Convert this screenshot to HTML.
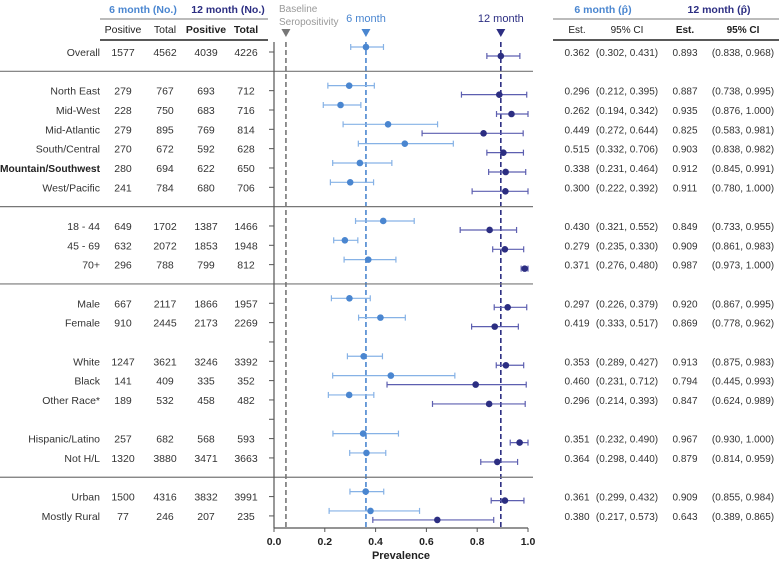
<!DOCTYPE html>
<html><head><meta charset="utf-8"><style>
body{margin:0;background:#fff}
svg{display:block;font-family:"Liberation Sans",Arial,sans-serif}
</style></head><body>
<svg id="c" width="779" height="562" viewBox="0 0 779 562"></svg>
<script>
const labels=["Overall","North East","Mid-West","Mid-Atlantic","South/Central","Mountain/Southwest","West/Pacific","18 - 44","45 - 69","70+","Male","Female","White","Black","Other Race*","Hispanic/Latino","Not H/L","Urban","Mostly Rural"];
const slots=[0,2,3,4,5,6,7,9,10,11,13,14,16,17,18,20,21,23,24];
const sepSlots=[1,8,12,22];
const blankSlots=[15,19];
const pos6=[1577,279,228,279,270,280,241,649,632,296,667,910,1247,141,189,257,1320,1500,77];
const tot6=[4562,767,750,895,672,694,784,1702,2072,788,2117,2445,3621,409,532,682,3880,4316,246];
const pos12=[4039,693,683,769,592,622,680,1387,1853,799,1866,2173,3246,335,458,568,3471,3832,207];
const tot12=[4226,712,716,814,628,650,706,1466,1948,812,1957,2269,3392,352,482,593,3663,3991,235];
const est6=[0.362,0.296,0.262,0.449,0.515,0.338,0.300,0.430,0.279,0.371,0.297,0.419,0.353,0.460,0.296,0.351,0.364,0.361,0.380];
const lo6=[0.302,0.212,0.194,0.272,0.332,0.231,0.222,0.321,0.235,0.276,0.226,0.333,0.289,0.231,0.214,0.232,0.298,0.299,0.217];
const hi6=[0.431,0.395,0.342,0.644,0.706,0.464,0.392,0.552,0.330,0.480,0.379,0.517,0.427,0.712,0.393,0.490,0.440,0.432,0.573];
const est12=[0.893,0.887,0.935,0.825,0.903,0.912,0.911,0.849,0.909,0.987,0.920,0.869,0.913,0.794,0.847,0.967,0.879,0.909,0.643];
const lo12=[0.838,0.738,0.876,0.583,0.838,0.845,0.780,0.733,0.861,0.973,0.867,0.778,0.875,0.445,0.624,0.930,0.814,0.855,0.389];
const hi12=[0.968,0.995,1.000,0.981,0.982,0.991,1.000,0.955,0.983,1.000,0.995,0.962,0.983,0.993,0.989,1.000,0.959,0.984,0.865];
const xTicks=["0.0","0.2","0.4","0.6","0.8","1.0"];
const refLines=[0.047,0.362,0.893];

const svg=document.getElementById('c');const NS='http://www.w3.org/2000/svg';
const X=v=>274+v*254;const Y=s=>52+s*19.33;
function el(t,a,txt){const e=document.createElementNS(NS,t);for(const k in a)e.setAttribute(k,a[k]);if(txt!==undefined)e.textContent=txt;svg.appendChild(e);return e;}
const f3=v=>v.toFixed(3);
const C6='#4a86d0',C6L='#86b2e6',C12='#2c2e82',C12L='#5d5fb0';
let t;
t=el('text',{x:143,y:13,'text-anchor':'middle','font-size':10.5,'font-weight':'bold',fill:C6},'6 month (No.)');
t=el('text',{x:228,y:13,'text-anchor':'middle','font-size':10.5,'font-weight':'bold',fill:C12},'12 month (No.)');
el('line',{x1:100,x2:268,y1:19,y2:19,stroke:'#777','stroke-width':1});
el('line',{x1:100,x2:268,y1:40,y2:40,stroke:'#222','stroke-width':1.5});
[['Positive',123,'normal'],['Total',165,'normal'],['Positive',206,'bold'],['Total',246,'bold']].forEach(h=>{t=el('text',{x:h[1],y:33,'text-anchor':'middle','font-size':10.5,'font-weight':h[2],fill:'#222'},h[0]);});
t=el('text',{x:603,y:13,'text-anchor':'middle','font-size':10.5,'font-weight':'bold',fill:C6},'6 month (p̂)');
t=el('text',{x:719,y:13,'text-anchor':'middle','font-size':10.5,'font-weight':'bold',fill:C12},'12 month (p̂)');
el('line',{x1:553,x2:779,y1:19,y2:19,stroke:'#777','stroke-width':1});
el('line',{x1:553,x2:779,y1:40,y2:40,stroke:'#222','stroke-width':1.5});
[['Est.',577,'normal'],['95% CI',627,'normal'],['Est.',685,'bold'],['95% CI',743,'bold']].forEach(h=>{t=el('text',{x:h[1],y:33,'text-anchor':'middle','font-size':10,'font-weight':h[2],fill:'#222'},h[0]);});
t=el('text',{x:279,y:12,'font-size':10,fill:'#999'},'Baseline');
el('text',{x:279,y:25,'font-size':10,fill:'#999'},'Seropositivity');
t=el('text',{x:X(refLines[1]),y:22,'text-anchor':'middle','font-size':11,fill:C6},'6 month');
t=el('text',{x:X(refLines[2]),y:22,'text-anchor':'middle','font-size':11,fill:C12},'12 month');
const refCols=['#777',C6,C12];
refLines.forEach((v,i)=>{const x=X(v);
 t=el('line',{x1:x,x2:x,y1:42,y2:528,stroke:refCols[i],'stroke-width':1.6,'stroke-dasharray':'5,3'});
 el('path',{d:`M${x-4.5},29 L${x+4.5},29 L${x},37 Z`,fill:refCols[i]});});
sepSlots.forEach(s=>{t=el('line',{x1:0,x2:533,y1:Y(s),y2:Y(s),stroke:'#777','stroke-width':1.2});});
el('line',{x1:274,x2:274,y1:42,y2:528,stroke:'#555','stroke-width':1.2});
el('line',{x1:274,x2:X(1),y1:528,y2:528,stroke:'#555','stroke-width':1.2});
xTicks.forEach(l=>{const x=X(parseFloat(l));el('line',{x1:x,x2:x,y1:528,y2:532,stroke:'#555'});t=el('text',{x:x,y:545,'text-anchor':'middle','font-size':10.5,'font-weight':'bold',fill:'#222'},l);});
t=el('text',{x:X(0.5),y:559,'text-anchor':'middle','font-size':11,'font-weight':'bold',fill:'#222'},'Prevalence');
blankSlots.forEach(s=>el('line',{x1:269,x2:274,y1:Y(s),y2:Y(s),stroke:'#555'}));
function ci(lo,hi,y,col){el('line',{x1:X(lo),x2:X(hi),y1:y,y2:y,stroke:col,'stroke-width':1.2});el('line',{x1:X(lo),x2:X(lo),y1:y-3,y2:y+3,stroke:col,'stroke-width':1.2});el('line',{x1:X(hi),x2:X(hi),y1:y-3,y2:y+3,stroke:col,'stroke-width':1.2});}
labels.forEach((lab,i)=>{const y=Y(slots[i]);const ty=y+4;
 if(lab==='Mountain/Southwest'){t=el('text',{x:0,y:ty,'font-size':10.5,'font-weight':'bold',fill:'#222',textLength:100,lengthAdjust:'spacingAndGlyphs'},lab);}
 else{t=el('text',{x:100,y:ty,'text-anchor':'end','font-size':10.5,fill:'#333'},lab);}
 
 [[pos6[i],123],[tot6[i],165],[pos12[i],206],[tot12[i],246]].forEach(c=>el('text',{x:c[1],y:ty,'text-anchor':'middle','font-size':10.5,fill:'#333'},c[0]));
 el('text',{x:577,y:ty,'text-anchor':'middle','font-size':10,fill:'#333'},f3(est6[i]));
 el('text',{x:627,y:ty,'text-anchor':'middle','font-size':10,fill:'#333'},`(${f3(lo6[i])}, ${f3(hi6[i])})`);
 el('text',{x:685,y:ty,'text-anchor':'middle','font-size':10,fill:'#333'},f3(est12[i]));
 el('text',{x:743,y:ty,'text-anchor':'middle','font-size':10,fill:'#333'},`(${f3(lo12[i])}, ${f3(hi12[i])})`);
 el('line',{x1:269,x2:274,y1:y,y2:y,stroke:'#555'});
 ci(lo6[i],hi6[i],y-5,C6L);
 t=el('circle',{cx:X(est6[i]),cy:y-5,r:3.3,fill:C6});
 ci(lo12[i],hi12[i],y+4,C12L);
 t=el('circle',{cx:X(est12[i]),cy:y+4,r:3.3,fill:C12});
});
</script>
</body></html>
